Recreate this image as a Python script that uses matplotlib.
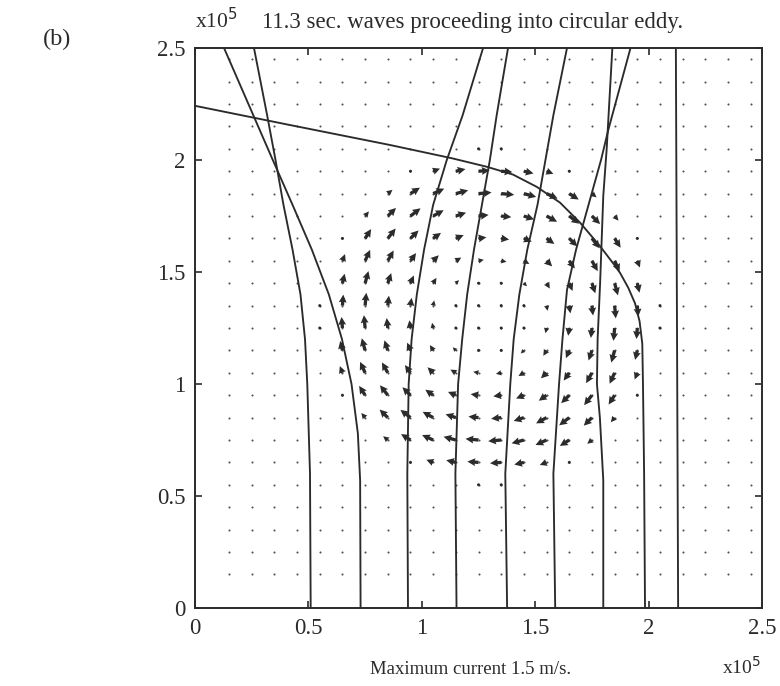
import numpy as np
import matplotlib
matplotlib.use('Agg')
import matplotlib.pyplot as plt

plt.rcParams['font.family'] = ['Liberation Serif', 'DejaVu Serif']

# ---- data (units of 1e5 m) ----
grid_x = [0.15, 0.25, 0.35, 0.45, 0.55, 0.65, 0.75, 0.85, 0.95, 1.05, 1.15, 1.25,
          1.35, 1.45, 1.55, 1.65, 1.75, 1.85, 1.95, 2.05, 2.15, 2.25, 2.35, 2.45]
grid_y = [0.15, 0.25, 0.35, 0.45, 0.55, 0.65, 0.75, 0.85, 0.95, 1.05, 1.15, 1.25,
          1.35, 1.45, 1.55, 1.65, 1.75, 1.85, 1.95, 2.05, 2.15, 2.25, 2.35, 2.45]

eddy_center_x = 1.30
eddy_center_y = 1.30
ring_radius = [0.00, 0.15, 0.25, 0.35, 0.45, 0.55, 0.65, 0.71, 0.76]   # 1e5 m
ring_speed = [0.00, 0.35, 0.60, 0.90, 1.15, 1.50, 1.30, 0.70, 0.00]    # m/s (clockwise)

ray1_x = [0.51, 0.507, 0.495, 0.485, 0.465, 0.43, 0.39, 0.355, 0.318, 0.26]
ray1_y = [0.00, 0.60, 1.00, 1.20, 1.40, 1.60, 1.80, 2.00, 2.20, 2.50]
ray2_x = [0.73, 0.728, 0.718, 0.69, 0.648, 0.59, 0.515, 0.43, 0.343, 0.257, 0.128]
ray2_y = [0.00, 0.57, 0.78, 1.00, 1.20, 1.40, 1.60, 1.80, 2.00, 2.20, 2.50]
ray3_x = [0.939, 0.936, 0.942, 0.955, 0.978, 1.01, 1.05, 1.11, 1.18, 1.27]
ray3_y = [0.00, 0.60, 1.00, 1.20, 1.40, 1.60, 1.80, 2.00, 2.20, 2.50]
ray4_x = [1.153, 1.148, 1.16, 1.178, 1.20, 1.23, 1.265, 1.30, 1.33, 1.38]
ray4_y = [0.00, 0.60, 1.00, 1.20, 1.40, 1.60, 1.80, 2.00, 2.20, 2.50]
ray5_x = [1.376, 1.368, 1.39, 1.405, 1.43, 1.465, 1.51, 1.545, 1.58, 1.64]
ray5_y = [0.00, 0.60, 1.00, 1.20, 1.40, 1.60, 1.80, 2.00, 2.20, 2.50]
ray6_x = [1.588, 1.58, 1.605, 1.62, 1.64, 1.68, 1.735, 1.79, 1.822, 1.92]
ray6_y = [0.00, 0.60, 1.00, 1.20, 1.42, 1.60, 1.80, 2.00, 2.134, 2.50]
ray7_x = [1.80, 1.80, 1.785, 1.772, 1.775, 1.786, 1.80, 1.815, 1.84]
ray7_y = [0.00, 0.57, 0.85, 1.00, 1.20, 1.45, 1.84, 2.05, 2.50]
ray8_x = [1.984, 1.98, 1.975, 1.972, 1.96, 1.94, 1.91, 1.874, 1.85, 1.786, 1.698,
          1.609, 1.507, 1.402, 1.286, 1.132, 0.86, 0.40, 0.00]
ray8_y = [0.00, 0.60, 1.00, 1.18, 1.28, 1.36, 1.43, 1.496, 1.53, 1.615, 1.72,
          1.81, 1.88, 1.935, 1.97, 2.008, 2.067, 2.16, 2.242]
ray9_x = [2.13, 2.12]
ray9_y = [0.00, 2.50]

rays = [(ray1_x, ray1_y), (ray2_x, ray2_y), (ray3_x, ray3_y), (ray4_x, ray4_y),
        (ray5_x, ray5_y), (ray6_x, ray6_y), (ray7_x, ray7_y), (ray8_x, ray8_y),
        (ray9_x, ray9_y)]

ticks = [0, 0.5, 1, 1.5, 2, 2.5]
tick_labels = ['0', '0.5', '1', '1.5', '2', '2.5']

# ---- figure ----
fig = plt.figure(figsize=(7.8, 6.86), dpi=100)
ax = fig.add_axes([0.25, 0.1137, 0.727, 0.8163])

ink = '#2b2b2b'

X, Y = np.meshgrid(grid_x, grid_y)
dx = X - eddy_center_x
dy = Y - eddy_center_y
r = np.hypot(dx, dy)
spd = np.interp(r, ring_radius, ring_speed, right=0.0)
with np.errstate(invalid='ignore', divide='ignore'):
    U = np.where(r > 0, spd * dy / r, 0.0)
    V = np.where(r > 0, -spd * dx / r, 0.0)

ax.scatter(X.ravel(), Y.ravel(), s=2.2, c='#505050', linewidths=0, zorder=2)
m = spd > 0.05
ax.quiver(X[m], Y[m], U[m], V[m], angles='xy', scale_units='xy', scale=26,
          width=0.0058, headwidth=2.4, headlength=2.4, headaxislength=2.2,
          color=ink, pivot='tail', zorder=3)

for rx, ry in rays:
    ax.plot(rx, ry, color=ink, lw=1.35, zorder=4, solid_capstyle='butt',
            solid_joinstyle='round')

ax.set_xlim(0, 2.5)
ax.set_ylim(0, 2.5)
ax.set_xticks(ticks)
ax.set_xticklabels(tick_labels)
ax.set_yticks(ticks)
ax.set_yticklabels(tick_labels)
ax.tick_params(direction='in', length=5, width=1.2, top=True, right=True,
               labelsize=16.5, colors=ink)
ax.tick_params(axis='x', pad=7)
ax.tick_params(axis='y', pad=7)
for s in ax.spines.values():
    s.set_linewidth(1.4)
    s.set_color(ink)

fig.text(0.073, 0.942, '(b)', fontsize=17.5, color=ink, ha='center', va='center')
fig.text(0.250, 0.959, r'x10$^5$', fontsize=15.5, color=ink, ha='left', va='baseline')
fig.text(0.606, 0.959, '11.3 sec. waves proceeding into circular eddy.', fontsize=16.5,
         color=ink, ha='center', va='baseline')
fig.text(0.603, 0.018, 'Maximum current 1.5 m/s.', fontsize=13.5, color=ink,
         ha='center', va='baseline')
fig.text(0.925, 0.018, r'x10$^5$', fontsize=14, color=ink, ha='left', va='baseline')

fig.savefig('out.png', dpi=100)
